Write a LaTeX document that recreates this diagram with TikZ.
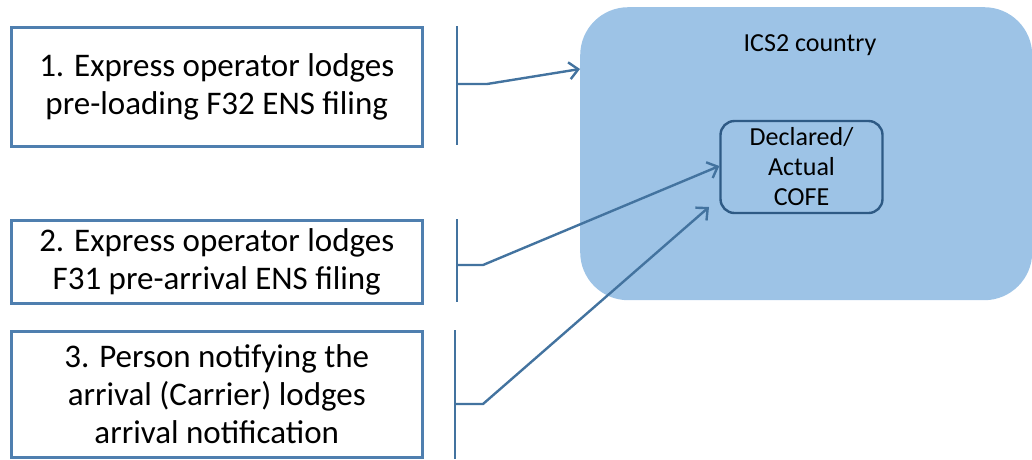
\documentclass[tikz,border=0pt]{standalone}
\usepackage{fontspec}
\setmainfont{Carlito}
\usetikzlibrary{arrows.meta}
\definecolor{boxline}{HTML}{4F7FAF}
\definecolor{conn}{HTML}{43739F}
\definecolor{regionfill}{HTML}{9DC3E6}
\definecolor{cofeline}{HTML}{2E5A85}
\tikzset{
  stepbox/.style={draw=boxline, line width=2.5pt, fill=white, inner sep=0pt, align=center,
    font=\fontsize{33}{38}\selectfont},
  bracketline/.style={draw=conn, line width=2.4pt},
  conn/.style={draw=conn, line width=2.4pt, -{Straight Barb[length=9pt,width=17pt,line width=2.4pt]}},
}
\begin{document}
\begin{tikzpicture}[x=1pt,y=-1pt]
\useasboundingbox (0,0) rectangle (1032,459);
% region
\node[fill=regionfill, rounded corners=48pt, minimum width=452pt, minimum height=293pt, inner sep=0pt, anchor=north west] (region) at (580,7) {};
\node[font=\fontsize{26}{30}\selectfont] (regionlabel) at (810,45) {ICS2 country};
\node[draw=cofeline, line width=2.4pt, rounded corners=14pt, minimum width=162pt, minimum height=92pt, inner sep=0pt, align=center, font=\fontsize{26}{30}\selectfont] (cofe) at (801.5,167) {Declared/\\Actual\\COFE};
% step boxes
\node[stepbox, minimum width=411pt, minimum height=119pt, anchor=north west] (s1) at (10,26) {1. Express operator lodges\\pre-loading F32 ENS filing};
\node[stepbox, minimum width=411pt, minimum height=83pt, anchor=north west] (s2) at (10,219) {2. Express operator lodges\\F31 pre-arrival ENS filing};
\node[stepbox, minimum width=411pt, minimum height=126pt, anchor=north west] (s3) at (10,330) {3. Person notifying the\\arrival (Carrier) lodges\\arrival notification};
% brackets
\coordinate (b1t) at (457,26); \coordinate (b1b) at (457,145); \coordinate (b1m) at (457,84); \coordinate (b1k) at (487,84);
\coordinate (b2t) at (457,219); \coordinate (b2b) at (457,302); \coordinate (b2m) at (457,265); \coordinate (b2k) at (483,265);
\coordinate (b3t) at (455,330); \coordinate (b3b) at (455,459); \coordinate (b3m) at (455,404); \coordinate (b3k) at (483,404);
\draw[bracketline] (b1t) -- (b1b);
\draw[bracketline] (b2t) -- (b2b);
\draw[bracketline] (b3t) -- (b3b);
\coordinate (e1) at (580,69);
\coordinate (e2) at (cofe.west |- 0,166);
\coordinate (e3) at (709,207);
\draw[conn] (b1m) -- (b1k) -- (e1);
\draw[conn] (b2m) -- (b2k) -- (e2);
\draw[conn] (b3m) -- (b3k) -- (e3);
\end{tikzpicture}
\end{document}
